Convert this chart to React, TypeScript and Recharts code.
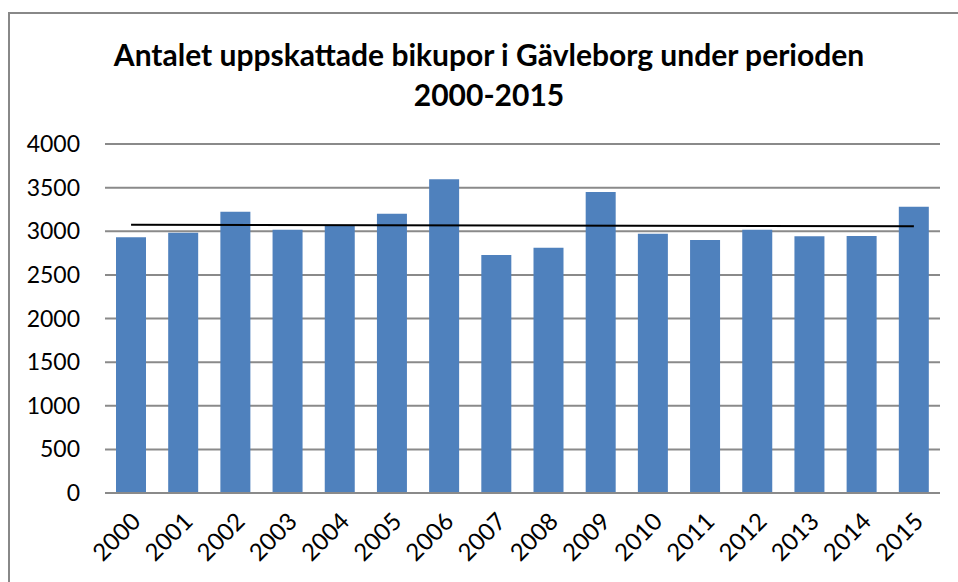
import React from "react";
import { BarChart, Bar, XAxis, YAxis, CartesianGrid, ReferenceLine } from "recharts";

const years = ["2000","2001","2002","2003","2004","2005","2006","2007","2008","2009","2010","2011","2012","2013","2014","2015"];
const hives = [2931, 2984, 3224, 3018, 3072, 3201, 3595, 2728, 2812, 3450, 2972, 2900, 3018, 2942, 2945, 3281];
const yTicks = [0, 500, 1000, 1500, 2000, 2500, 3000, 3500, 4000];
const trendStart = 3075;
const trendEnd = 3057;
const titleLines = ["Antalet uppskattade bikupor i Gävleborg under perioden", "2000-2015"];

const data = years.map((y, i) => ({ year: y, value: hives[i] }));

const FONT = "Lato, 'Open Sans', sans-serif";

const YTick = (props: any) => {
  const { y, payload } = props;
  return (
    <text x={80} y={y} dy="0.35em" textAnchor="end" fontFamily={FONT} fontSize={23} fill="#000">
      {payload.value}
    </text>
  );
};

const XTick = (props: any) => {
  const { x, y, payload } = props;
  const ax = x + 11;
  const ay = y + 22;
  return (
    <text x={ax} y={ay} textAnchor="end" fontFamily={FONT} fontSize={24} fill="#000" transform={`rotate(-45 ${ax} ${ay})`}>
      {payload.value}
    </text>
  );
};

export default function App() {
  return (
    <div style={{ position: "absolute", left: 0, top: 0, width: 958, height: 582, background: "#fff", overflow: "hidden" }}>
      <div style={{ position: "absolute", left: 8, top: 12, width: 1000, height: 700, borderLeft: "2px solid #888", borderTop: "2px solid #888" }} />
      <div style={{ position: "absolute", left: 0, top: 34, width: 978, textAlign: "center", fontFamily: FONT, fontWeight: 700, fontSize: 30, lineHeight: "40px", color: "#000" }}>
        {titleLines.map((t) => (<div key={t}>{t}</div>))}
      </div>
      <div style={{ position: "absolute", left: 0, top: 0 }}>
        <BarChart width={958} height={582} data={data} margin={{ top: 144, right: 18, left: 0, bottom: 0 }} barSize={30}>
          <CartesianGrid vertical={false} stroke="#8a8a8a" strokeWidth={2} />
          <XAxis dataKey="year" height={89} tickLine={false} axisLine={{ stroke: "#8a8a8a", strokeWidth: 2 }} tick={<XTick />} interval={0} />
          <YAxis width={105} domain={[0, 4000]} ticks={yTicks} axisLine={false} tickLine={false} tick={<YTick />} interval={0} />
          <Bar dataKey="value" fill="#4F81BD" isAnimationActive={false} />
          <ReferenceLine segment={[{ x: years[0], y: trendStart }, { x: years[years.length - 1], y: trendEnd }]} stroke="#000" strokeWidth={2} ifOverflow="visible" />
        </BarChart>
      </div>
    </div>
  );
}
